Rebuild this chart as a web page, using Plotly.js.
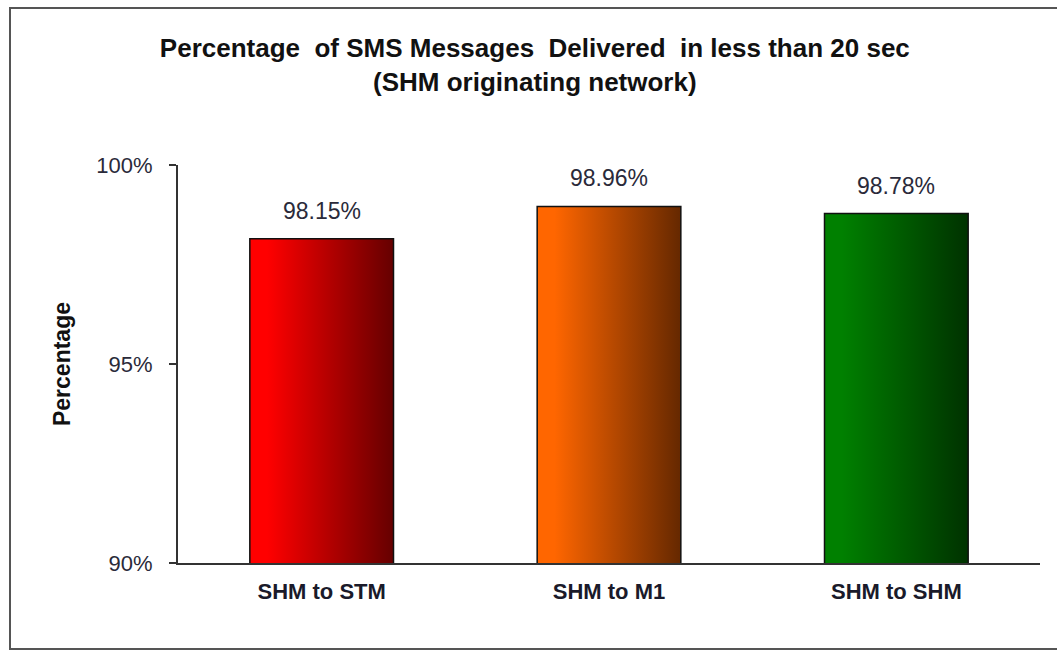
<!DOCTYPE html>
<html>
<head>
<meta charset="utf-8">
<script src="https://cdn.plot.ly/plotly-3.0.1.min.js"></script>
<style>
  html, body { margin: 0; padding: 0; background: #fff; overflow: hidden; }
  #wrap { position: relative; width: 1057px; height: 652px; overflow: hidden; }
  #chart { width: 1057px; height: 652px; }
  #frame { position: absolute; left: 9px; top: 7px; width: 1100px; height: 643px;
           border: 2px solid #555; border-right: none; box-sizing: border-box; pointer-events: none; }
</style>
</head>
<body>
<div id="wrap">
  <div id="chart"></div>
  <div id="frame"></div>
</div>
<script>
// ---- data ----
const categories = ["SHM to STM", "SHM to M1", "SHM to SHM"];
const values = [98.15, 98.96, 98.78];
const tickValues = [90, 95, 100];
const tickLabels = ["90%", "95%", "100%"];
const gradStart = ["#ff0000", "#ff6600", "#008000"];
const gradEnd = ["#650000", "#652800", "#003200"];

const FONT = "Arial, 'Liberation Sans', sans-serif";

const trace = {
  type: "bar",
  x: categories,
  y: values,
  marker: { color: gradStart, line: { color: "#111", width: 1.5 } },
  hoverinfo: "skip",
  showlegend: false
};

const annotations = categories.map((c, i) => ({
  x: c, y: values[i], xref: "x", yref: "y",
  text: values[i].toFixed(2) + "%",
  showarrow: false, yanchor: "middle", yshift: 28,
  font: { family: FONT, size: 23, color: "#2a2a3a" }
}));

const layout = {
  width: 1057, height: 652,
  margin: { l: 178, r: 17, t: 165, b: 89 },
  paper_bgcolor: "#fff", plot_bgcolor: "#fff",
  title: {
    text: "<b>Percentage  of SMS Messages  Delivered  in less than 20 sec<br>(SHM originating network)</b>",
    font: { family: FONT, size: 26, color: "#111" },
    x: 0.506, xanchor: "center", xref: "container",
    y: 0.913, yanchor: "middle", yref: "container"
  },
  bargap: 0.5,
  xaxis: {
    type: "category",
    showline: true, linecolor: "#333", linewidth: 2,
    ticks: "", showgrid: false, zeroline: false,
    tickfont: { family: FONT, size: 22, color: "#1a1a2a", weight: "bold" },
    ticklabelstandoff: 8
  },
  yaxis: {
    range: [90, 100], fixedrange: true,
    tickvals: tickValues, ticktext: tickLabels,
    showline: true, linecolor: "#333", linewidth: 2,
    ticks: "outside", ticklen: 7, tickwidth: 2, tickcolor: "#333",
    showgrid: false, zeroline: false,
    tickfont: { family: FONT, size: 22, color: "#2a2a3a" },
    ticklabelstandoff: 12,
    title: { text: "<b>Percentage</b>", font: { family: FONT, size: 23, color: "#111" }, standoff: 19 }
  },
  annotations: annotations
};

Plotly.newPlot("chart", [trace], layout, { displayModeBar: false, staticPlot: true }).then(() => {
  const svg = document.querySelector("#chart .main-svg");
  const NS = "http://www.w3.org/2000/svg";
  let defs = svg.querySelector("defs");
  if (!defs) { defs = document.createElementNS(NS, "defs"); svg.insertBefore(defs, svg.firstChild); }
  categories.forEach((c, i) => {
    const g = document.createElementNS(NS, "linearGradient");
    g.setAttribute("id", "barGrad" + i);
    g.setAttribute("x1", "0"); g.setAttribute("y1", "0");
    g.setAttribute("x2", "1"); g.setAttribute("y2", "0");
    const s1 = document.createElementNS(NS, "stop");
    s1.setAttribute("offset", "0.12"); s1.setAttribute("stop-color", gradStart[i]);
    const s2 = document.createElementNS(NS, "stop");
    s2.setAttribute("offset", "1"); s2.setAttribute("stop-color", gradEnd[i]);
    g.appendChild(s1); g.appendChild(s2);
    defs.appendChild(g);
  });
  const paths = document.querySelectorAll("#chart .trace.bars .point path");
  paths.forEach((p, i) => { p.style.fill = "url(#barGrad" + i + ")"; });
});
</script>
</body>
</html>
